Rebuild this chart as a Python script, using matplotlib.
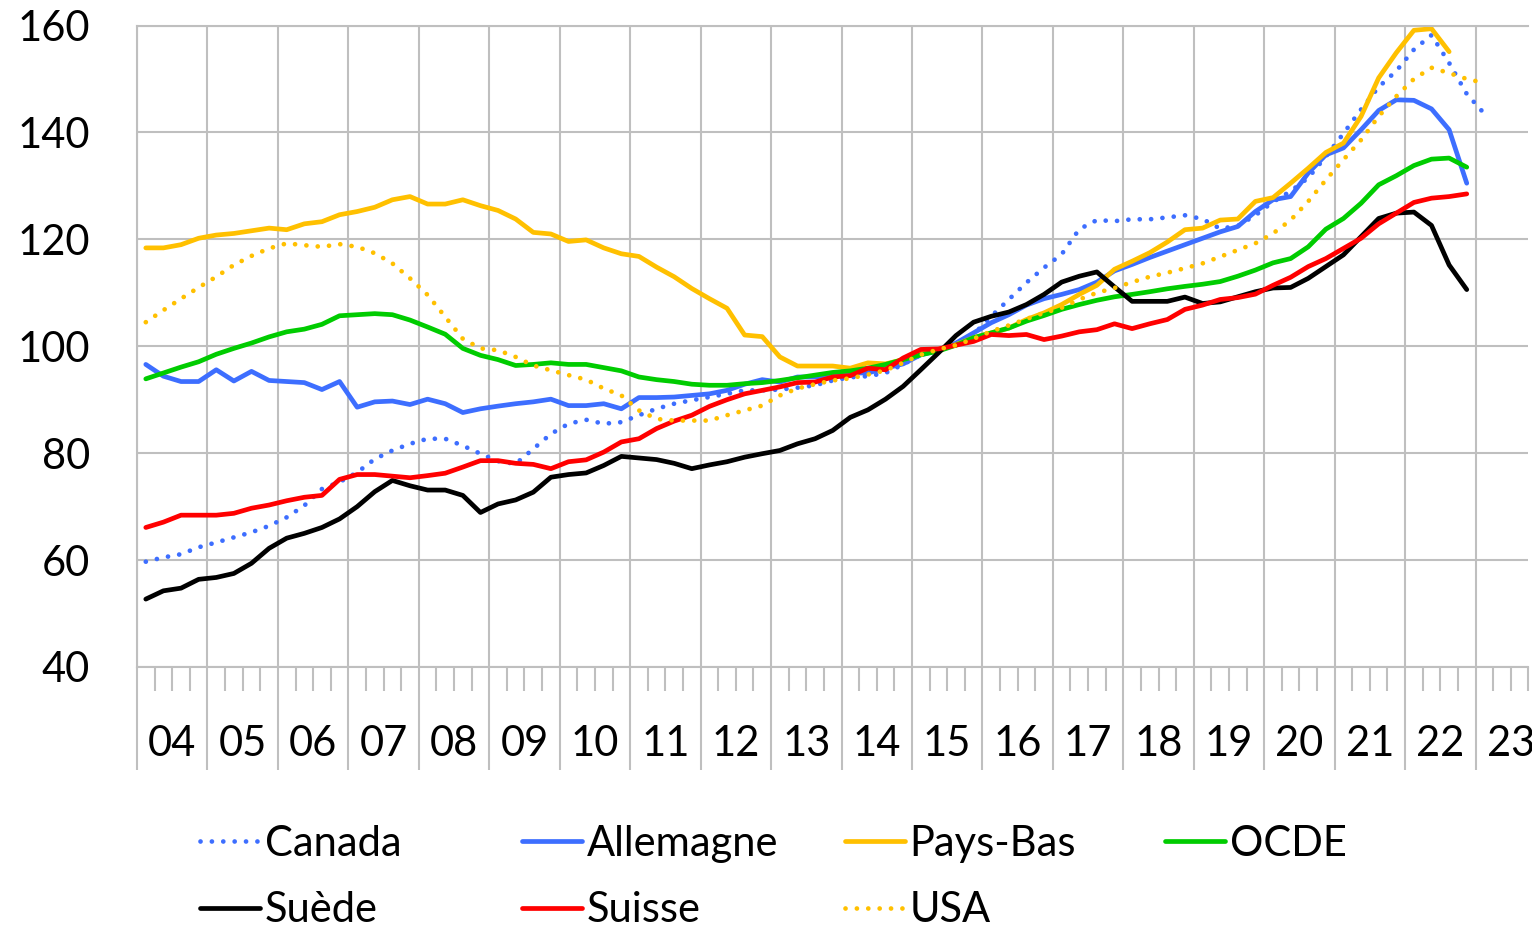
import numpy as np
import matplotlib.pyplot as plt
from matplotlib.transforms import blended_transform_factory

plt.rcParams['font.family'] = ['Lato', 'DejaVu Sans']

# indices trimestriels, 2015 = 100, de 2004T1 a 2023T1
canada = [59.7, 60.5, 61.1, 62.4, 63.3, 64.25, 65.2, 66.4, 68.0, 70.2, 73.3, 74.6, 76.4, 78.9, 80.5, 81.75,
          82.7, 82.7, 81.4, 79.9, 78.5, 78.0, 80.8, 83.6, 85.5, 86.25, 85.5, 85.8, 87.1, 88.3, 89.25, 89.9,
          90.5, 91.1, 91.75, 91.75, 91.9, 92.25, 92.7, 93.6, 94.2, 94.4, 95.0, 96.6, 98.4, 99.4, 100.6, 102.2,
          105.6, 108.75, 111.9, 114.7, 117.2, 121.9, 123.6, 123.4, 123.75, 123.75, 124.1, 124.5, 123.8, 122.0,
          122.5, 124.5, 127.0, 129.0, 131.5, 135.5, 139.8, 144.3, 148.5, 151.5, 155.5, 158.2, 153.0, 147.2, 143.5]
allemagne = [96.6, 94.4, 93.4, 93.4, 95.6, 93.5, 95.3, 93.6, 93.4, 93.2, 91.9, 93.4, 88.6, 89.6, 89.75, 89.1,
             90.1, 89.25, 87.6, 88.3, 88.8, 89.25, 89.6, 90.1, 88.9, 88.9, 89.25, 88.3, 90.4, 90.4, 90.5, 90.8,
             91.1, 91.75, 92.9, 93.75, 93.3, 94.25, 94.25, 94.6, 95.0, 95.0, 95.9, 96.7, 98.4, 99.2, 100.6, 102.5,
             104.4, 105.9, 107.7, 108.9, 109.7, 110.6, 112.0, 114.1, 115.3, 116.6, 117.8, 119.0, 120.2, 121.4,
             122.4, 125.2, 127.4, 128.0, 132.4, 135.8, 137.1, 140.5, 144.1, 146.1, 146.0, 144.4, 140.5, 130.5]
pays_bas = [118.4, 118.4, 119.0, 120.2, 120.8, 121.1, 121.6, 122.1, 121.8, 122.9, 123.3, 124.6, 125.2, 126.0,
            127.4, 128.0, 126.6, 126.6, 127.4, 126.3, 125.4, 123.8, 121.3, 121.0, 119.6, 119.9, 118.4, 117.3,
            116.8, 114.8, 113.0, 110.8, 108.9, 107.1, 102.1, 101.8, 98.0, 96.3, 96.3, 96.3, 95.9, 96.9, 96.7,
            97.5, 98.75, 99.4, 100.3, 101.6, 102.5, 103.4, 105.0, 106.25, 107.8, 109.7, 111.4, 114.4, 115.9,
            117.5, 119.5, 121.8, 122.1, 123.6, 123.8, 127.1, 127.8, 130.5, 133.3, 136.25, 138.0, 143.0, 150.2,
            154.9, 159.1, 159.4, 155.1]
ocde = [93.9, 95.0, 96.1, 97.1, 98.5, 99.6, 100.6, 101.75, 102.7, 103.2, 104.1, 105.7, 105.9, 106.1, 105.9,
        104.9, 103.6, 102.25, 99.6, 98.3, 97.5, 96.4, 96.6, 96.9, 96.6, 96.6, 96.0, 95.4, 94.25, 93.75, 93.4,
        92.9, 92.7, 92.7, 93.0, 93.2, 93.6, 94.1, 94.6, 95.1, 95.4, 95.9, 96.6, 97.5, 98.4, 99.1, 100.2, 101.6,
        102.5, 103.4, 104.7, 105.75, 106.9, 107.8, 108.6, 109.25, 109.7, 110.2, 110.75, 111.2, 111.6, 112.1,
        113.1, 114.25, 115.6, 116.4, 118.6, 121.9, 123.9, 126.75, 130.2, 131.9, 133.8, 135.0, 135.2, 133.5]
suede = [52.7, 54.25, 54.75, 56.4, 56.75, 57.5, 59.4, 62.2, 64.1, 65.0, 66.1, 67.7, 70.0, 72.8, 74.9, 73.9,
         73.1, 73.1, 72.1, 68.9, 70.5, 71.25, 72.7, 75.5, 76.0, 76.3, 77.7, 79.4, 79.1, 78.8, 78.1, 77.1, 77.8,
         78.4, 79.25, 79.9, 80.5, 81.75, 82.7, 84.25, 86.7, 88.1, 90.1, 92.5, 95.6, 98.75, 102.0, 104.5, 105.6,
         106.4, 107.8, 109.7, 112.0, 113.1, 113.9, 111.1, 108.4, 108.4, 108.4, 109.2, 108.0, 108.3, 109.25,
         110.2, 110.9, 111.0, 112.7, 114.9, 117.1, 120.5, 123.9, 124.9, 125.1, 122.6, 115.2, 110.6]
suisse = [66.1, 67.1, 68.4, 68.4, 68.4, 68.75, 69.7, 70.3, 71.1, 71.75, 72.1, 75.1, 76.0, 76.0, 75.7, 75.4,
          75.8, 76.25, 77.4, 78.6, 78.6, 78.1, 77.9, 77.1, 78.4, 78.75, 80.2, 82.1, 82.7, 84.6, 86.0, 87.1,
          88.75, 90.0, 91.1, 91.75, 92.4, 93.2, 93.3, 94.25, 94.5, 95.9, 95.6, 97.8, 99.4, 99.5, 100.2, 100.9,
          102.2, 102.0, 102.2, 101.25, 101.9, 102.7, 103.1, 104.2, 103.3, 104.2, 105.0, 106.9, 107.7, 108.75,
          109.1, 109.75, 111.4, 112.9, 114.9, 116.4, 118.3, 120.2, 122.9, 124.9, 126.9, 127.7, 128.0, 128.5]
usa = [104.5, 106.75, 108.9, 111.0, 113.0, 115.2, 116.9, 118.3, 119.25, 118.9, 118.6, 119.1, 118.6, 117.4,
       115.5, 112.7, 109.6, 105.5, 101.4, 99.6, 99.25, 98.0, 96.4, 95.5, 94.6, 93.75, 92.1, 90.8, 88.0, 86.4,
       86.1, 86.1, 86.1, 87.1, 88.0, 88.9, 90.8, 92.1, 92.9, 93.6, 94.0, 94.7, 95.5, 96.9, 98.4, 99.4, 100.2,
       101.4, 102.8, 103.9, 105.1, 106.25, 107.2, 108.75, 110.0, 110.9, 112.0, 113.0, 113.75, 114.6, 115.5,
       116.75, 118.0, 119.25, 121.1, 123.6, 127.1, 131.1, 134.9, 138.6, 143.0, 146.75, 150.0, 152.1, 151.1,
       150.0, 149.25]

year_labels = ['04', '05', '06', '07', '08', '09', '10', '11', '12', '13', '14', '15', '16', '17', '18', '19',
               '20', '21', '22', '23']
y_ticks = [40, 60, 80, 100, 120, 140, 160]

BLUE = '#3D6EFF'
YELLOW = '#FFC000'
GRID = '#BFBFBF'
DOT = (0, (0.01, 2.4))

# nom, valeurs, couleur, style (ordre de trace)
series = [
    ('Canada', canada, BLUE, DOT),
    ('Allemagne', allemagne, BLUE, '-'),
    ('Pays-Bas', pays_bas, YELLOW, '-'),
    ('OCDE', ocde, '#00CC00', '-'),
    ('Suède', suede, 'black', '-'),
    ('Suisse', suisse, '#FF0000', '-'),
    ('USA', usa, YELLOW, DOT),
]

W, H = 1532, 927
fig = plt.figure(figsize=(W / 100, H / 100), dpi=100)
x0, x1 = 2004, 2023.75
left_px, top_px, bottom_px = 137, 25.5, 667
ax = fig.add_axes([left_px / W, 1 - bottom_px / H, (x1 - x0) * 70.45 / W, (bottom_px - top_px) / H])

handles = {}
for name, vals, color, ls in series:
    x = 2004.125 + 0.25 * np.arange(len(vals))
    ln, = ax.plot(x, vals, color=color, lw=3.4, ls=ls, dash_capstyle='round',
                  solid_capstyle='round', solid_joinstyle='round', label=name)
    handles[name] = ln

ax.set_xlim(x0, x1)
ax.set_ylim(40, 160)
ax.set_yticks(y_ticks)
ax.set_xticks(np.arange(2004, 2024))
ax.set_xticks(np.arange(2004, 2023.8, 0.25), minor=True)
ax.set_xticklabels([])
ax.grid(True, which='major', color=GRID, lw=1.5)
ax.set_axisbelow(True)
for side in ['left', 'top', 'bottom']:
    ax.spines[side].set_color(GRID)
    ax.spines[side].set_linewidth(1.5)
ax.spines['right'].set_visible(False)
ax.tick_params(axis='y', length=0, pad=34, labelsize=30)
ax.tick_params(axis='x', which='major', length=74, width=1.5, color=GRID)
ax.tick_params(axis='x', which='minor', length=17, width=1.5, color=GRID)

# annees au centre de chaque intervalle
trans = blended_transform_factory(ax.transData, ax.transAxes)
for i, lab in enumerate(year_labels):
    ax.text(2004.5 + i, -0.12, lab, transform=trans, ha='center', va='center', fontsize=30)

# legende en quatre colonnes fixes
columns = [['Canada', 'Suède'], ['Allemagne', 'Suisse'], ['Pays-Bas', 'USA'], ['OCDE']]
col_x = [200, 522, 845, 1165]
for names, cx in zip(columns, col_x):
    fig.legend([handles[n] for n in names], names, loc='upper left',
               bbox_to_anchor=(cx / W, 1 - 825 / H), frameon=False, fontsize=30,
               handlelength=1.45, handletextpad=0.1, borderpad=0, borderaxespad=0,
               labelspacing=0.68)

fig.savefig('out.png', dpi=100)
